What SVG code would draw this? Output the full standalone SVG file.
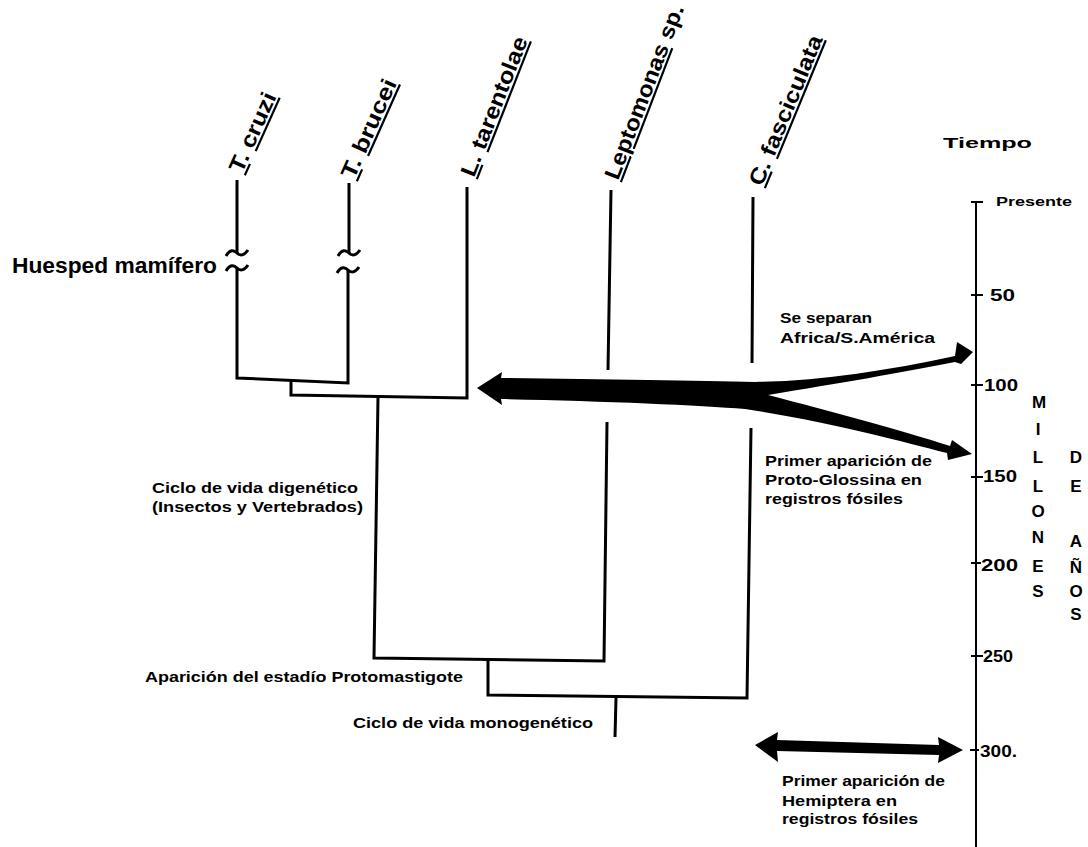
<svg xmlns="http://www.w3.org/2000/svg" width="1088" height="847" viewBox="0 0 1088 847">
<style>
.t{font-family:"Liberation Sans",Arial,sans-serif;font-weight:bold;fill:#000}
.sp{font-size:22px}
.lb{font-size:15px}
.ax{font-size:16px}
.br{fill:none;stroke:#000;stroke-width:3;stroke-linejoin:miter;stroke-linecap:butt}
.axl{fill:none;stroke:#000;stroke-width:2}
.u{text-decoration:underline}
</style>
<rect width="1088" height="847" fill="#fff"/>

<g id="connectors">
  <path class="br" d="M237,180 V253 M237,268 V378 L348,383 V270 M349,253 V183"/>
  <path class="br" d="M226,256 C230,249 234,250 237,253 C240,256 244,256 248,250"/>
  <path class="br" d="M226,271 C230,264 234,265 237,268 C240,271 244,271 248,265"/>
  <path class="br" d="M338,256 C342,249 346,250 349,253 C352,256 356,256 360,250"/>
  <path class="br" d="M337,273 C341,266 345,267 348,270 C351,273 355,273 359,267"/>
  <path class="br" d="M291,381 V395 L467,398 V187"/>
  <path class="br" d="M378,397 L374,658 L604,661 L607,422 M608,370 L611,190"/>
  <path class="br" d="M488,660 V695 L747,698 L751,428 M752,363 L753,197"/>
  <path class="br" d="M616,698 L615,737"/>
</g>

<g id="arrows">
  <path d="M477,388 L502,372 L501,378 C600,379 700,381 755,382 C820,381 885,371 955,356 L957,342 L973,352 L961,364 L955,362 C900,373 840,383 768,395 C830,411 900,430 950,446 L952,440 L972,454 L948,460 L947,453 C900,441 830,422 745,409 C700,405 600,401 501,399 L502,405 Z" fill="#000"/>
  <path d="M755,745 L778,732 L777,740 L939,745 L938,737 L963,750 L938,763 L939,755 L777,751 L778,762 Z" fill="#000"/>
</g>

<g id="taxon-tcruzi">
  <text class="t sp" transform="translate(242,174) rotate(-65.8)" textLength="85" lengthAdjust="spacingAndGlyphs"><tspan class="u">T</tspan>. <tspan class="u">cruzi</tspan></text>
</g>
<g id="taxon-tbrucei">
  <text class="t sp" transform="translate(354,180) rotate(-66)" textLength="106" lengthAdjust="spacingAndGlyphs"><tspan class="u">T</tspan>. <tspan class="u">brucei</tspan></text>
</g>
<g id="taxon-ltarentolae">
  <text class="t sp" transform="translate(474,178) rotate(-68.6)" textLength="148" lengthAdjust="spacingAndGlyphs"><tspan class="u">L</tspan>. <tspan class="u">tarentolae</tspan></text>
</g>
<g id="taxon-leptomonas">
  <text class="t sp" transform="translate(618,181) rotate(-69)" textLength="185" lengthAdjust="spacingAndGlyphs"><tspan class="u">Leptomonas</tspan> sp.</text>
</g>
<g id="taxon-cfasciculata">
  <text class="t sp" transform="translate(762,187) rotate(-67.6)" textLength="160" lengthAdjust="spacingAndGlyphs"><tspan class="u">C</tspan>. <tspan class="u">fasciculata</tspan></text>
</g>

<g id="label-huesped">
  <text class="t" style="font-size:22px" x="12" y="273" textLength="205" lengthAdjust="spacingAndGlyphs">Huesped mamífero</text>
</g>
<g id="label-digenetico">
  <text class="t lb" x="152" y="493" textLength="206" lengthAdjust="spacingAndGlyphs">Ciclo de vida digenético</text>
  <text class="t lb" x="152" y="512" textLength="211" lengthAdjust="spacingAndGlyphs">(Insectos y Vertebrados)</text>
</g>
<g id="label-protomastigote">
  <text class="t lb" x="145" y="682" textLength="318" lengthAdjust="spacingAndGlyphs">Aparición del estadío Protomastigote</text>
</g>
<g id="label-monogenetico">
  <text class="t lb" x="353" y="728" textLength="240" lengthAdjust="spacingAndGlyphs">Ciclo de vida monogenético</text>
</g>
<g id="label-africa">
  <text class="t lb" x="780" y="323" textLength="92" lengthAdjust="spacingAndGlyphs">Se separan</text>
  <text class="t lb" x="780" y="343" textLength="155" lengthAdjust="spacingAndGlyphs">Africa/S.América</text>
</g>
<g id="label-glossina">
  <text class="t lb" x="765" y="466" textLength="167" lengthAdjust="spacingAndGlyphs">Primer aparición de</text>
  <text class="t lb" x="765" y="485" textLength="157" lengthAdjust="spacingAndGlyphs">Proto-Glossina en</text>
  <text class="t lb" x="765" y="504" textLength="138" lengthAdjust="spacingAndGlyphs">registros fósiles</text>
</g>
<g id="label-hemiptera">
  <text class="t lb" x="782" y="786" textLength="163" lengthAdjust="spacingAndGlyphs">Primer aparición de</text>
  <text class="t lb" x="782" y="806" textLength="115" lengthAdjust="spacingAndGlyphs">Hemiptera en</text>
  <text class="t lb" x="782" y="824" textLength="136" lengthAdjust="spacingAndGlyphs">registros fósiles</text>
</g>

<g id="time-axis">
  <text class="t" style="font-size:15px" x="943" y="148" textLength="89" lengthAdjust="spacingAndGlyphs">Tiempo</text>
  <path class="axl" d="M976,202 V847 M971,202 H983 M971,295 H983 M971,385 H983 M971,477 H983 M971,563 H981 M971,656 H983 M970,750 H979"/>
  <text class="t" style="font-size:13px" x="996" y="206" textLength="76" lengthAdjust="spacingAndGlyphs">Presente</text>
  <text class="t ax" x="990" y="301" textLength="25" lengthAdjust="spacingAndGlyphs">50</text>
  <text class="t ax" x="984" y="391" textLength="34" lengthAdjust="spacingAndGlyphs">100</text>
  <text class="t ax" x="983" y="482" textLength="34" lengthAdjust="spacingAndGlyphs">150</text>
  <text class="t ax" x="981" y="571" textLength="37" lengthAdjust="spacingAndGlyphs">200</text>
  <text class="t ax" x="983" y="662" textLength="30" lengthAdjust="spacingAndGlyphs">250</text>
  <text class="t ax" x="980" y="757" textLength="37" lengthAdjust="spacingAndGlyphs">300.</text>
  <g class="t" style="font-size:17px" text-anchor="middle">
    <text x="1039" y="408">M</text>
    <text x="1038" y="435">I</text>
    <text x="1038" y="463">L</text>
    <text x="1038" y="492">L</text>
    <text x="1038" y="517">O</text>
    <text x="1038" y="543">N</text>
    <text x="1038" y="572">E</text>
    <text x="1038" y="597">S</text>
    <text x="1076" y="463">D</text>
    <text x="1076" y="492">E</text>
    <text x="1076" y="547">A</text>
    <text x="1076" y="573">Ñ</text>
    <text x="1076" y="597">O</text>
    <text x="1076" y="620">S</text>
  </g>
</g>
</svg>
